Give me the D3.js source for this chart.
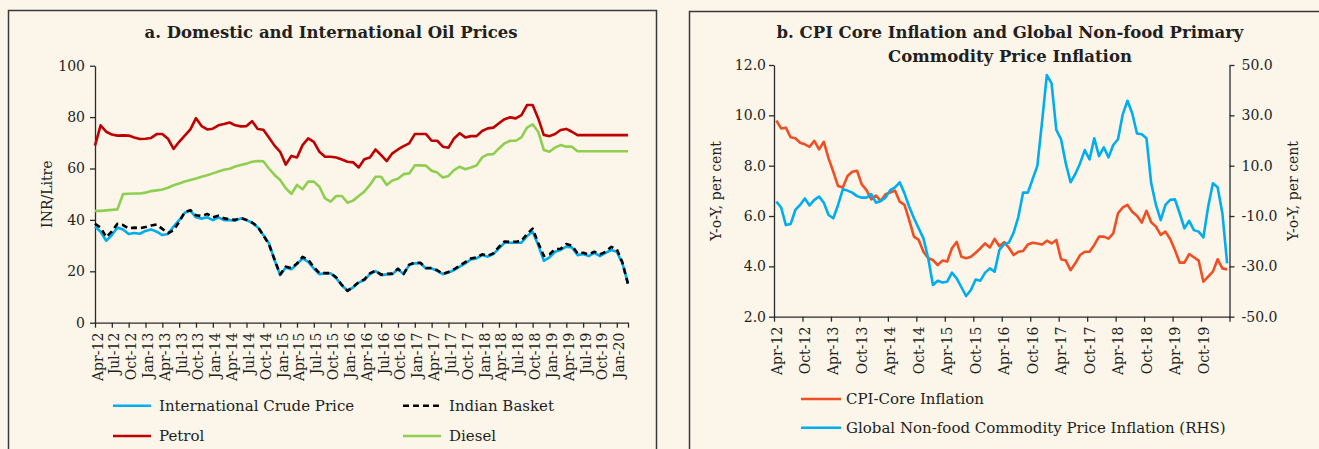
<html>

<head>
    <meta charset="utf-8">
    <script src="https://d3js.org/d3.v7.min.js"></script>

    <style>
        body {
            margin: 0;
            background: #FBF5EA;
        }

        svg {
            font-family: "DejaVu Serif", serif;
            display: block;
        }

        .line {
            fill: none;
            stroke-width: 2.6;
            stroke-linejoin: round;
        }

        .axis path,
        .axis line {
            stroke: #2b2b2b;
            stroke-width: 1.3;
        }

        .axis text {
            fill: #231f20;
            font-size: 14px;
            font-family: "DejaVu Serif", serif;
        }

        .title-text {
            font-size: 16.5px;
            font-weight: bold;
            fill: #231f20;
        }

        .label-text {
            font-size: 14px;
            fill: #231f20;
        }

        .legend-text {
            font-size: 15px;
            fill: #231f20;
        }
    </style>
</head>

<body>
    <div id="chart"></div>

    <script>
        var quarterLabels = ["Apr-12", "Jul-12", "Oct-12", "Jan-13", "Apr-13", "Jul-13", "Oct-13", "Jan-14",
            "Apr-14", "Jul-14", "Oct-14", "Jan-15", "Apr-15", "Jul-15", "Oct-15", "Jan-16",
            "Apr-16", "Jul-16", "Oct-16", "Jan-17", "Apr-17", "Jul-17", "Oct-17", "Jan-18",
            "Apr-18", "Jul-18", "Oct-18", "Jan-19", "Apr-19", "Jul-19", "Oct-19", "Jan-20"];

        var halfYearLabels = ["Apr-12", "Oct-12", "Apr-13", "Oct-13", "Apr-14", "Oct-14", "Apr-15", "Oct-15",
            "Apr-16", "Oct-16", "Apr-17", "Oct-17", "Apr-18", "Oct-18", "Apr-19", "Oct-19"];

        // panel a : INR/Litre, monthly Apr-12 .. Mar-20
        var crudePrice = [37.4, 35.4, 31.9, 34.1, 37.0, 36.3, 34.5, 34.9, 34.6, 35.7,
            36.3, 35.4, 34.1, 34.5, 37.4, 39.9, 42.8, 43.6, 41.0, 40.5,
            41.0, 39.9, 41.0, 39.9, 39.9, 39.7, 40.6, 39.9, 38.9, 37.1,
            34.1, 30.9, 24.4, 18.5, 21.5, 20.8, 22.8, 25.0, 23.7, 21.1,
            18.9, 19.2, 19.2, 17.3, 14.5, 12.5, 13.7, 15.6, 16.6, 18.9,
            20.1, 18.5, 18.8, 18.9, 20.8, 18.9, 22.4, 23.1, 23.1, 21.1,
            21.1, 20.2, 18.9, 19.5, 20.5, 21.8, 23.1, 24.6, 25.0, 26.3,
            25.7, 26.7, 28.9, 31.1, 31.1, 31.1, 31.1, 33.7, 35.4, 30.2,
            24.1, 25.4, 27.6, 28.3, 29.6, 29.3, 26.3, 26.7, 25.9, 27.2,
            25.9, 27.2, 28.3, 27.6, 23.1, 15.3];

        var indianBasket = [38.5, 37.0, 33.3, 35.5, 38.5, 38.0, 36.7, 37.0, 36.8, 37.2,
            37.8, 38.2, 36.5, 34.8, 36.0, 39.2, 43.0, 43.8, 41.8, 41.5,
            42.3, 41.0, 41.6, 40.6, 40.2, 40.0, 40.8, 40.0, 39.0, 37.4,
            34.0, 30.5, 24.6, 18.8, 21.8, 21.2, 23.0, 25.6, 24.5, 21.6,
            19.3, 19.3, 19.3, 17.6, 14.7, 12.4, 13.9, 15.8, 16.8, 19.2,
            20.3, 18.7, 19.0, 19.1, 21.0, 19.0, 22.6, 23.4, 23.3, 21.3,
            21.3, 20.4, 19.0, 19.7, 20.8, 22.2, 23.6, 25.0, 25.4, 26.6,
            26.0, 27.0, 29.5, 31.6, 31.4, 31.5, 31.8, 34.5, 36.6, 31.0,
            26.0, 26.6, 28.6, 28.8, 30.6, 30.0, 27.0, 27.2, 26.6, 27.6,
            26.6, 27.6, 29.5, 28.6, 23.5, 15.0];

        var petrol = [68.9, 76.8, 74.3, 73.2, 72.8, 72.9, 72.8, 72.1, 71.5, 71.6,
            71.9, 73.4, 73.4, 71.6, 67.6, 70.4, 72.8, 75.2, 79.6, 76.5,
            75.2, 75.5, 76.8, 77.3, 77.9, 76.8, 76.4, 76.5, 78.4, 75.4,
            75.1, 72.1, 68.9, 66.5, 61.5, 64.9, 64.3, 69.1, 71.7, 70.4,
            66.5, 64.6, 64.6, 64.3, 63.5, 62.6, 62.4, 60.4, 63.6, 64.3,
            67.4, 65.2, 62.9, 65.9, 67.4, 68.7, 69.8, 73.4, 73.4, 73.4,
            70.8, 70.8, 68.5, 68.1, 71.7, 73.7, 72.1, 72.6, 72.6, 74.6,
            75.6, 75.9, 77.6, 79.2, 79.9, 79.5, 80.8, 84.7, 84.7, 79.5,
            73.0, 72.6, 73.4, 75.0, 75.4, 74.3, 73.0, 73.0, 73.0, 73.0,
            73.0, 73.0, 73.0, 73.0, 73.0, 73.0];

        var diesel = [43.5, 43.5, 43.7, 43.9, 44.1, 50.1, 50.2, 50.3, 50.3, 50.6,
            51.2, 51.5, 51.8, 52.5, 53.5, 54.2, 54.9, 55.5, 56.1, 56.8,
            57.4, 58.1, 58.8, 59.5, 59.9, 60.8, 61.4, 61.9, 62.6, 62.9,
            62.8, 60.0, 57.5, 55.5, 52.3, 50.1, 53.6, 51.9, 54.9, 54.9,
            52.9, 48.4, 47.1, 49.3, 49.3, 46.7, 47.5, 49.3, 51.0, 53.6,
            56.8, 56.8, 53.6, 55.3, 56.0, 57.8, 58.1, 61.2, 61.2, 61.1,
            59.1, 58.4, 56.5, 57.1, 59.4, 60.7, 59.7, 60.4, 61.2, 64.3,
            65.5, 65.6, 67.8, 69.8, 70.8, 70.8, 72.1, 75.9, 77.2, 74.3,
            67.2, 66.5, 68.2, 69.1, 68.5, 68.5, 66.7, 66.7, 66.7, 66.7,
            66.7, 66.7, 66.7, 66.7, 66.7, 66.7];

        // panel b : per cent, monthly Apr-12 .. Mar-20
        var cpiCore = [9.79, 9.48, 9.51, 9.13, 9.09, 8.91, 8.85, 8.75, 8.99, 8.65,
            8.95, 8.29, 7.76, 7.19, 7.13, 7.59, 7.76, 7.80, 7.26, 7.03,
            6.66, 6.81, 6.60, 6.87, 6.93, 7.01, 6.57, 6.44, 5.84, 5.18,
            5.05, 4.58, 4.32, 4.25, 4.05, 4.23, 4.19, 4.72, 4.97, 4.38,
            4.32, 4.38, 4.54, 4.72, 4.91, 4.75, 5.09, 4.80, 4.96, 4.74,
            4.45, 4.58, 4.61, 4.87, 4.94, 4.91, 4.87, 5.02, 4.91, 5.05,
            4.28, 4.23, 3.85, 4.12, 4.45, 4.58, 4.58, 4.85, 5.18, 5.18,
            5.10, 5.31, 6.11, 6.34, 6.44, 6.17, 6.01, 5.74, 6.21, 5.75,
            5.58, 5.25, 5.38, 5.09, 4.65, 4.15, 4.15, 4.49, 4.36, 4.23,
            3.39, 3.59, 3.79, 4.28, 3.92, 3.88];

        var globalNonFood = [-4.3, -6.6, -13.6, -13.2, -7.6, -5.6, -3.0, -5.8, -3.6, -2.3,
            -4.7, -9.6, -10.9, -5.6, 0.6, 0.1, -0.7, -2.1, -2.7, -2.7,
            -1.3, -4.7, -4.0, -2.7, 0.3, 1.4, 3.4, -1.0, -6.3, -10.9,
            -14.9, -18.9, -26.8, -37.4, -35.7, -36.4, -36.1, -32.5, -34.8, -38.3,
            -41.8, -39.4, -35.2, -35.7, -32.5, -30.8, -32.1, -23.5, -21.1, -20.6,
            -16.6, -10.3, -0.7, -0.7, 4.6, 9.9, 27.5, 46.0, 42.7, 24.2,
            20.5, 10.9, 3.4, 6.7, 10.9, 16.2, 12.5, 20.9, 13.8, 17.3,
            13.3, 18.2, 20.5, 30.4, 35.8, 30.8, 22.8, 22.5, 20.9, 3.0,
            -5.6, -11.6, -5.6, -3.6, -3.4, -8.9, -14.9, -11.9, -15.6, -16.2,
            -18.5, -6.3, 3.0, 1.4, -8.9, -28.8];

        var leftTicks = [0, 20, 40, 60, 80, 100];
        var cpiTicks = [2, 4, 6, 8, 10, 12];
        var rhsTicks = [-50, -30, -10, 10, 30, 50];

        var width = 1319;
        var height = 449;

        var svg = d3.select("#chart").append("svg")
            .attr("width", width)
            .attr("height", height);

        /* Panel frames */
        svg.append("rect")
            .attr("x", 8.5).attr("y", 10.5)
            .attr("width", 648).attr("height", 460)
            .attr("fill", "none").attr("stroke", "#3a3a3a").attr("stroke-width", 1.5);

        svg.append("rect")
            .attr("x", 689.5).attr("y", 11.5)
            .attr("width", 660).attr("height", 460)
            .attr("fill", "none").attr("stroke", "#3a3a3a").attr("stroke-width", 1.5);

        /* ---------- Panel a ---------- */
        var xA = d3.scaleLinear().domain([0, 95]).range([95, 628]);
        var yA = d3.scaleLinear().domain([0, 100]).range([322.7, 65.7]);

        var gA = svg.append("g");

        gA.append("text")
            .attr("class", "title-text")
            .attr("x", 331).attr("y", 38)
            .attr("text-anchor", "middle")
            .text("a. Domestic and International Oil Prices");

        var xAxisA = d3.axisBottom(xA)
            .tickValues(d3.range(0, 94, 3).concat([95]))
            .tickSize(5).tickSizeOuter(0)
            .tickFormat(d => d % 3 === 0 && d < 95 ? quarterLabels[d / 3] : "");

        gA.append("g")
            .attr("class", "x axis")
            .attr("transform", `translate(0, ${yA(0)})`)
            .call(xAxisA)
            .selectAll("text")
            .attr("transform", "rotate(-90)")
            .attr("x", -10).attr("y", 0)
            .attr("dy", "0.5em")
            .style("text-anchor", "end");

        gA.append("g")
            .attr("class", "y axis")
            .attr("transform", `translate(${xA(0)}, 0)`)
            .call(d3.axisLeft(yA).tickValues(leftTicks).tickSize(5).tickSizeOuter(0).tickPadding(5));

        gA.append("text")
            .attr("class", "label-text")
            .attr("transform", `translate(52, ${(yA(0) + yA(100)) / 2}) rotate(-90)`)
            .attr("text-anchor", "middle")
            .text("INR/Litre");

        var lineA = d3.line()
            .x((d, i) => xA(i))
            .y(d => yA(d));

        var seriesA = [
            { name: "Petrol", values: petrol, color: "#C00000", dash: null },
            { name: "Diesel", values: diesel, color: "#8FCF50", dash: null },
            { name: "International Crude Price", values: crudePrice, color: "#00AEEF", dash: null },
            { name: "Indian Basket", values: indianBasket, color: "#000000", dash: "6,4" }
        ];

        gA.selectAll(".line-a")
            .data(seriesA).enter()
            .append("path")
            .attr("class", "line line-a")
            .attr("d", d => lineA(d.values))
            .style("stroke", d => d.color)
            .style("stroke-dasharray", d => d.dash);

        // legend a
        var legendA = [
            { s: seriesA[2], x: 113, y: 405.7 },
            { s: seriesA[3], x: 403, y: 405.7 },
            { s: seriesA[0], x: 113, y: 436 },
            { s: seriesA[1], x: 403, y: 436 }
        ];

        var legA = gA.selectAll(".leg-a")
            .data(legendA).enter()
            .append("g")
            .attr("class", "leg-a");

        legA.append("line")
            .attr("x1", d => d.x).attr("x2", d => d.x + 38)
            .attr("y1", d => d.y).attr("y2", d => d.y)
            .style("stroke", d => d.s.color)
            .style("stroke-width", 2.6)
            .style("stroke-dasharray", d => d.s.dash);

        legA.append("text")
            .attr("class", "legend-text")
            .attr("x", d => d.x + 46)
            .attr("y", d => d.y)
            .attr("dy", "0.36em")
            .text(d => d.s.name);

        /* ---------- Panel b ---------- */
        var xB = d3.scaleLinear().domain([0, 96]).range([774, 1229.5]);
        var yB = d3.scaleLinear().domain([2, 12]).range([316.7, 65]);
        var yB2 = d3.scaleLinear().domain([-50, 50]).range([316.7, 65]);

        var gB = svg.append("g");

        gB.append("text")
            .attr("class", "title-text")
            .attr("x", 1010).attr("y", 38)
            .attr("text-anchor", "middle")
            .text("b. CPI Core Inflation and Global Non-food Primary");

        gB.append("text")
            .attr("class", "title-text")
            .attr("x", 1010).attr("y", 62)
            .attr("text-anchor", "middle")
            .text("Commodity Price Inflation");

        var xAxisB = d3.axisBottom(xB)
            .tickValues(d3.range(0, 97, 6))
            .tickSize(5).tickSizeOuter(0)
            .tickFormat(d => d < 96 ? halfYearLabels[d / 6] : "");

        gB.append("g")
            .attr("class", "x axis")
            .attr("transform", `translate(0, ${yB(2)})`)
            .call(xAxisB)
            .selectAll("text")
            .attr("transform", "rotate(-90)")
            .attr("x", -10).attr("y", 0)
            .attr("dy", "0.5em")
            .style("text-anchor", "end");

        gB.append("g")
            .attr("class", "y axis")
            .attr("transform", `translate(${xB(0)}, 0)`)
            .call(d3.axisLeft(yB).tickValues(cpiTicks).tickSize(5).tickSizeOuter(0).tickPadding(3)
                .tickFormat(d3.format(".1f")));

        gB.append("g")
            .attr("class", "y axis")
            .attr("transform", `translate(${xB(96)}, 0)`)
            .call(d3.axisRight(yB2).tickValues(rhsTicks).tickSize(5).tickSizeOuter(0).tickPadding(7)
                .tickFormat(d => d3.format(".1f")(d).replace("−", "-")));

        gB.append("text")
            .attr("class", "label-text")
            .attr("transform", `translate(721, ${(yB(2) + yB(12)) / 2}) rotate(-90)`)
            .attr("text-anchor", "middle")
            .text("Y-o-Y, per cent");

        gB.append("text")
            .attr("class", "label-text")
            .attr("transform", `translate(1298, ${(yB(2) + yB(12)) / 2}) rotate(-90)`)
            .attr("text-anchor", "middle")
            .text("Y-o-Y, per cent");

        // points sit in the middle of each month
        var lineCpi = d3.line()
            .x((d, i) => xB(i + 0.5))
            .y(d => yB(d));

        var lineGlobal = d3.line()
            .x((d, i) => xB(i + 0.5))
            .y(d => yB2(d));

        gB.append("path")
            .attr("class", "line")
            .attr("d", lineCpi(cpiCore))
            .style("stroke", "#F04E23");

        gB.append("path")
            .attr("class", "line")
            .attr("d", lineGlobal(globalNonFood))
            .style("stroke", "#00AEEF");

        // legend b
        var legendB = [
            { name: "CPI-Core Inflation", color: "#F04E23", y: 399 },
            { name: "Global Non-food Commodity Price Inflation (RHS)", color: "#00AEEF", y: 427.7 }
        ];

        var legB = gB.selectAll(".leg-b")
            .data(legendB).enter()
            .append("g")
            .attr("class", "leg-b");

        legB.append("line")
            .attr("x1", 801).attr("x2", 841)
            .attr("y1", d => d.y).attr("y2", d => d.y)
            .style("stroke", d => d.color)
            .style("stroke-width", 2.6);

        legB.append("text")
            .attr("class", "legend-text")
            .attr("x", 846)
            .attr("y", d => d.y)
            .attr("dy", "0.36em")
            .text(d => d.name);
    </script>
</body>

</html>
